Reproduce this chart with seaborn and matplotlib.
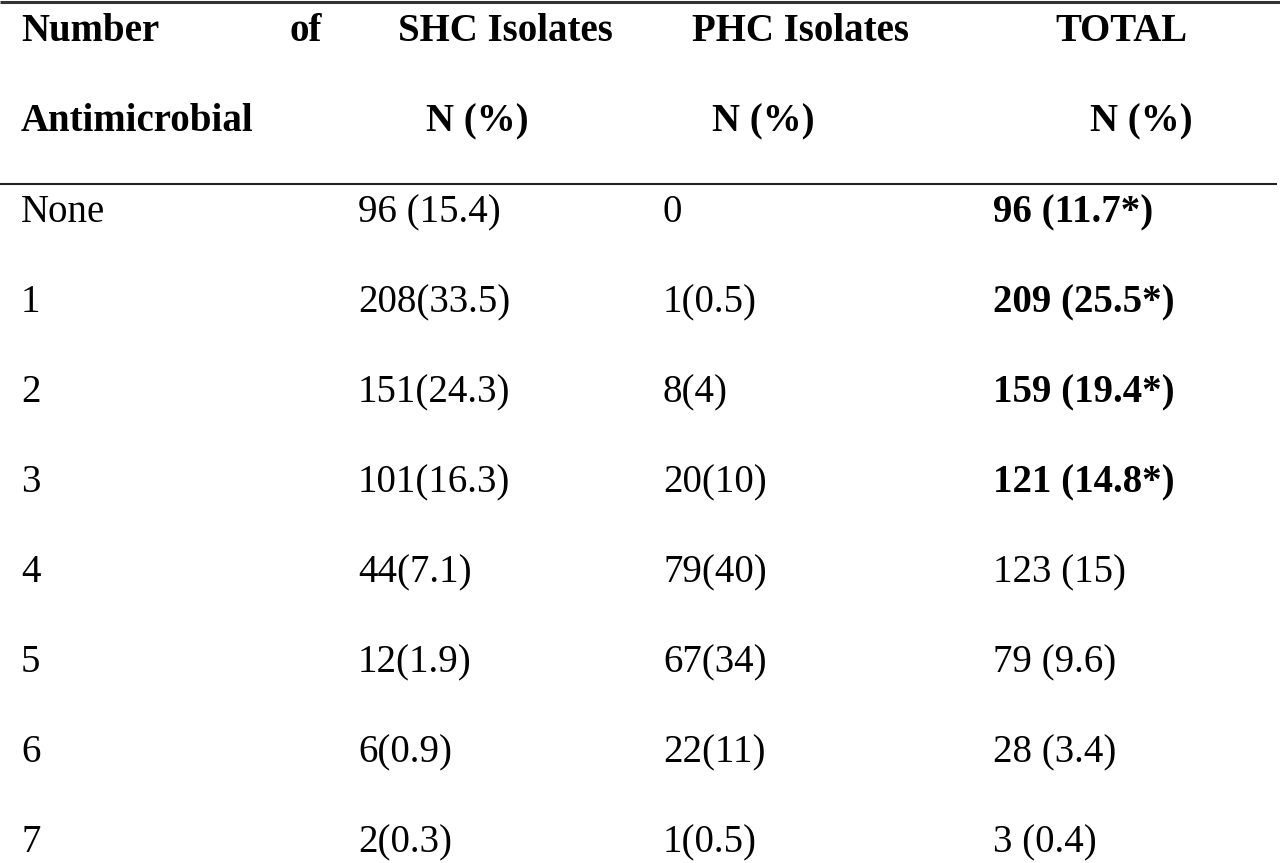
import matplotlib
matplotlib.use("Agg")
import matplotlib.pyplot as plt
import seaborn as sns

# Table content
row_labels = ["None", "1", "2", "3", "4", "5", "6", "7"]
shc_values = ["96 (15.4)", "208(33.5)", "151(24.3)", "101(16.3)",
              "44(7.1)", "12(1.9)", "6(0.9)", "2(0.3)"]
phc_values = ["0", "1(0.5)", "8(4)", "20(10)",
              "79(40)", "67(34)", "22(11)", "1(0.5)"]
total_values = ["96 (11.7*)", "209 (25.5*)", "159 (19.4*)", "121 (14.8*)",
                "123 (15)", "79 (9.6)", "28 (3.4)", "3 (0.4)"]
total_bold = [True, True, True, True, False, False, False, False]

header_top = ["SHC Isolates", "PHC Isolates", "TOTAL"]
header_sub = ["N (%)", "N (%)", "N (%)"]

sns.set_theme(style="white")
plt.rcParams['font.family'] = ['Liberation Serif', 'DejaVu Serif']
plt.rcParams['text.color'] = 'black'

W, H = 1280, 863
fig = plt.figure(figsize=(W / 100, H / 100), dpi=100)
ax = fig.add_axes([0, 0, 1, 1])
ax.set_xlim(0, W)
ax.set_ylim(H, 0)
ax.axis("off")

fs = 28
col_left = [21, 358, 663, 993]
top_centers = [505, 801, 1121]
sub_centers = [477.5, 763, 1141]

# rules
ax.hlines(2.5, 0, W, color="#333333", lw=2.2)
ax.hlines(184.5, 0, 1277, color="#222222", lw=1.5)

# header
ax.text(col_left[0], 41, "Number", fontsize=fs, fontweight="bold", ha="left", va="baseline")
ax.text(322, 41, "of", fontsize=fs, fontweight="bold", ha="right", va="baseline")
ax.text(col_left[0], 131, "Antimicrobial", fontsize=fs, fontweight="bold", ha="left", va="baseline")
for x, t in zip(top_centers, header_top):
    ax.text(x, 41, t, fontsize=fs, fontweight="bold", ha="center", va="baseline")
for x, t in zip(sub_centers, header_sub):
    ax.text(x, 131, t, fontsize=fs, fontweight="bold", ha="center", va="baseline")

# body rows
for i, lab in enumerate(row_labels):
    y = 222 + 90 * i
    ax.text(col_left[0], y, lab, fontsize=fs, ha="left", va="baseline")
    ax.text(col_left[1], y, shc_values[i], fontsize=fs, ha="left", va="baseline")
    ax.text(col_left[2], y, phc_values[i], fontsize=fs, ha="left", va="baseline")
    ax.text(col_left[3], y, total_values[i], fontsize=fs, ha="left", va="baseline",
            fontweight="bold" if total_bold[i] else "normal")

fig.savefig("out.png", dpi=100, facecolor="white")
